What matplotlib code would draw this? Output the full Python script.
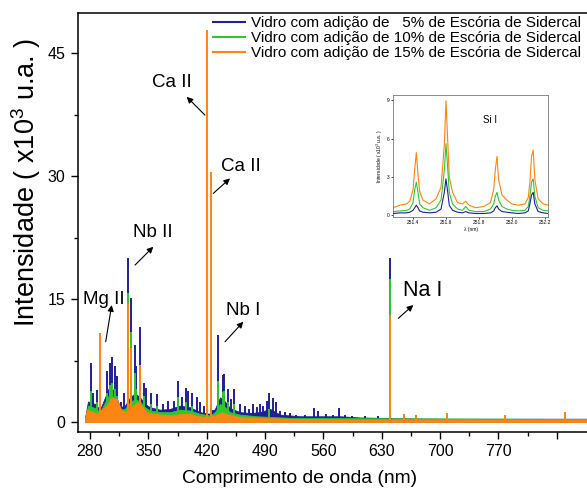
import numpy as np
import matplotlib
matplotlib.use("Agg")
import matplotlib.pyplot as plt

plt.rcParams['font.family'] = ['Liberation Sans', 'DejaVu Sans']
plt.rcParams['mathtext.fontset'] = 'custom'
plt.rcParams['mathtext.rm'] = 'Liberation Sans'
plt.rcParams['mathtext.it'] = 'Liberation Sans'

# ---------------- data ----------------
labels = ["Vidro com adição de   5% de Escória de Sidercal",
          "Vidro com adição de 10% de Escória de Sidercal",
          "Vidro com adição de 15% de Escória de Sidercal"]
colors = ["#1f1f96", "#2ec82e", "#ff8412"]

# continuum (nm, x10^3 u.a.)
blue_cont_x = [274, 277.6, 286, 292, 298, 304, 310, 316, 322, 328, 334, 340, 346, 352, 364, 376, 388, 400, 412, 424, 430, 436, 442, 448, 460, 472, 484, 496, 508, 532, 556, 580, 604, 634, 646, 712, 892]
blue_cont_y = [0.5, 2.5, 2.2, 1.5, 3.0, 4.5, 3.5, 1.8, 2.0, 3.0, 3.5, 3.0, 2.2, 1.8, 1.5, 1.6, 2.0, 1.8, 1.2, 1.0, 1.6, 3.0, 2.5, 1.7, 1.2, 1.1, 1.2, 1.6, 0.9, 0.7, 0.7, 0.7, 0.55, 0.5, 0.45, 0.4, 0.4]
green_cont_x = [274, 277.6, 286, 292, 298, 304, 310, 316, 322, 328, 334, 340, 346, 352, 364, 376, 388, 400, 412, 424, 430, 436, 442, 448, 460, 480, 520, 892]
green_cont_y = [0.4, 2.0, 1.7, 1.2, 2.4, 3.5, 2.8, 1.5, 1.6, 2.4, 2.8, 2.5, 1.8, 1.4, 1.2, 1.2, 1.5, 1.4, 1.0, 0.8, 1.2, 2.2, 1.8, 1.2, 0.9, 0.7, 0.5, 0.35]
orange_cont_x = [274, 276, 282, 288, 294, 300, 306, 312, 318, 324, 330, 336, 342, 348, 356, 366, 378, 390, 400, 410, 420, 430, 438, 446, 460, 480, 500, 540, 600, 892]
orange_cont_y = [0.3, 1.5, 1.3, 1.0, 1.5, 2.0, 3.0, 2.8, 1.4, 1.2, 1.8, 2.4, 2.0, 1.2, 1.0, 0.9, 0.8, 1.0, 1.0, 0.7, 0.6, 0.8, 1.2, 0.9, 0.6, 0.5, 0.45, 0.35, 0.3, 0.3]

# emission lines (nm, height)
blue_pk_x = [280.8, 283.6, 288.8, 300.8, 304.4, 306.8, 309.6, 312.4, 317.6, 320.8, 325.6, 329.6, 333.6, 335.6, 340.4, 344.4, 347.6, 353.6, 360.8, 367.6, 373.6, 380.4, 385.6, 390.4, 395.6, 397.6, 402.0, 408.0, 412.0, 416.8, 427.6, 434.0, 439.2, 441.2, 445.2, 449.2, 453.2, 460.0, 466.0, 470.8, 476.0, 480.4, 484.0, 487.6, 492.0, 495.2, 499.2, 503.2, 508.0, 514.0, 520.0, 527.2, 538.0, 548.8, 553.6, 563.2, 571.6, 579.2, 586.0, 594.4, 610.0, 625.6, 640.0, 656.8, 671.2]
blue_pk_y = [7.2, 3.5, 3.9, 6.2, 7.2, 7.9, 6.8, 5.6, 2.4, 3.5, 20.0, 15.1, 9.4, 6.8, 11.6, 4.7, 4.1, 3.5, 3.4, 2.2, 2.6, 2.6, 5.0, 3.0, 4.2, 3.8, 3.5, 3.1, 2.5, 1.9, 1.5, 10.6, 5.7, 5.9, 4.0, 2.8, 4.0, 2.2, 2.0, 1.6, 2.2, 1.8, 2.2, 1.9, 2.6, 3.5, 2.9, 2.4, 1.4, 1.2, 1.1, 0.9, 0.9, 1.7, 1.3, 1.0, 0.9, 1.7, 0.8, 0.7, 0.7, 0.7, 20.0, 1.0, 0.9]
green_pk_x = [280.8, 288.8, 300.8, 304.4, 306.8, 309.6, 312.4, 325.6, 329.6, 333.6, 335.6, 340.4, 344.4, 353.6, 360.8, 385.6, 395.6, 402.0, 434.0, 439.2, 441.2, 445.2, 453.2, 495.2, 640.0]
green_pk_y = [3.8, 2.5, 3.5, 4.5, 4.8, 4.0, 3.2, 15.7, 11.0, 6.0, 4.0, 7.0, 3.2, 2.2, 2.0, 3.0, 2.4, 2.0, 5.0, 3.6, 3.8, 2.4, 2.2, 1.6, 17.4]
orange_pk_x = [292.4, 325.0, 329.0, 340.0, 420.0, 424.8, 640.0, 656.8, 671.2, 708.4, 778.0, 850.0]
orange_pk_y = [10.8, 14.5, 9.0, 7.0, 47.8, 30.5, 13.1, 1.0, 0.9, 1.1, 0.8, 1.2]

# inset: Si I region
inset_x = [251.28, 251.32, 251.36, 251.38, 251.40, 251.41, 251.42, 251.43, 251.44, 251.46, 251.50, 251.54, 251.57, 251.59, 251.60, 251.61, 251.62, 251.64, 251.67, 251.70, 251.72, 251.74, 251.78, 251.83, 251.87, 251.89, 251.90, 251.91, 251.92, 251.94, 251.97, 252.00, 252.04, 252.08, 252.10, 252.11, 252.12, 252.13, 252.14, 252.16, 252.19, 252.22]
inset_orange = [0.6, 0.8, 0.9, 1.1, 2.0, 3.6, 4.9, 3.2, 1.9, 1.2, 0.9, 1.3, 2.2, 5.5, 8.95, 6.0, 3.0, 1.8, 1.0, 0.9, 1.1, 0.8, 0.6, 0.7, 1.0, 2.0, 3.6, 4.6, 2.8, 1.6, 1.2, 0.9, 0.8, 0.9, 1.4, 2.6, 4.6, 5.1, 2.8, 1.3, 0.9, 0.8]
inset_green = [0.3, 0.35, 0.4, 0.5, 1.0, 2.0, 2.6, 1.8, 0.9, 0.6, 0.4, 0.6, 1.2, 3.5, 5.6, 3.8, 1.8, 0.9, 0.5, 0.4, 0.7, 0.4, 0.3, 0.3, 0.5, 0.9, 1.5, 1.8, 1.2, 0.7, 0.5, 0.4, 0.35, 0.4, 0.7, 1.5, 2.6, 2.85, 1.5, 0.6, 0.4, 0.35]
inset_blue = [0.15, 0.2, 0.2, 0.25, 0.4, 0.6, 0.8, 0.6, 0.35, 0.25, 0.2, 0.25, 0.5, 1.8, 2.85, 1.9, 0.8, 0.4, 0.25, 0.2, 0.3, 0.2, 0.15, 0.15, 0.2, 0.35, 0.6, 0.75, 0.5, 0.3, 0.25, 0.2, 0.15, 0.2, 0.35, 0.9, 1.6, 1.8, 0.9, 0.3, 0.2, 0.15]

x_major = [280, 350, 420, 490, 560, 630, 700, 770, 840]
x_major_lbl = ["280", "350", "420", "490", "560", "630", "700", "770", ""]
y_major = [0, 15, 30, 45]

# ---------------- figure ----------------
W, H = 587, 495
fig = plt.figure(figsize=(W / 100, H / 100), dpi=100)
ax = fig.add_axes([78 / W, 1 - 432 / H, 522 / W, 419 / H])
ax.set_xlim(265.6, 892)
ax.set_ylim(-1.22, 49.9)

series = [
    (blue_cont_x, blue_cont_y, blue_pk_x, blue_pk_y),
    (green_cont_x, green_cont_y, green_pk_x, green_pk_y),
    (orange_cont_x, orange_cont_y, orange_pk_x, orange_pk_y),
]
for i, (cx, cy, px, py) in enumerate(series):
    ax.fill_between(cx, 0, cy, color=colors[i], lw=0.6, zorder=2 + i)
    ax.vlines(px, 0, py, color=colors[i], lw=1.4, zorder=2 + i)
    ax.plot([], [], color=colors[i], lw=1.5, label=labels[i])

ax.set_xticks(x_major)
ax.set_xticklabels(x_major_lbl)
ax.set_xticks([315, 385, 455, 525, 595, 665, 735, 805], minor=True)
ax.set_yticks(y_major)
ax.set_yticks([7.5, 22.5, 37.5], minor=True)
ax.tick_params(which='major', direction='out', length=5, width=1, labelsize=11.5, pad=4)
ax.tick_params(which='minor', direction='out', length=3, width=1)
for s in ['left', 'bottom', 'top']:
    ax.spines[s].set_linewidth(1.1)
ax.spines['right'].set_visible(False)

ax.set_ylabel("Intensidade ( x10$^3$ u.a. )", fontsize=19.5)
ax.yaxis.set_label_coords(-(78 - 43) / 522, (432 - 182) / 419)
ax.set_xlabel("Comprimento de onda (nm)", fontsize=13.9)
ax.xaxis.set_label_coords((300 - 78) / 522, -(470 - 432) / 419)

leg = fig.legend(loc='upper left', bbox_to_anchor=(213 / W, 1 - 16 / H), frameon=False,
                 fontsize=11, handlelength=2.1, handletextpad=0.4, labelspacing=0.07,
                 borderpad=0, borderaxespad=0)

def pxd(px, py):
    return 280 + (px - 90) * 1.2, (422 - py) / 8.2

ann = [
    ("Ca II", (172, 82), (205, 115), (186.7, 96.7), 13.5),
    ("Ca II", (241, 166.7), (213.3, 193.3), (230, 178.3), 13.5),
    ("Nb II", (153, 232), (135, 265), (153.3, 246.7), 13.5),
    ("Mg II", (104, 299), (105.7, 341.7), (111.7, 305), 13.5),
    ("Nb I", (243.5, 310), (225, 341.7), (243.3, 321.7), 13.5),
    ("Na I", (423, 290), (398.3, 318.3), (413.3, 305), 15.5),
]
for txt, tc, tail, head, fs in ann:
    ax.text(*pxd(*tc), txt, fontsize=fs, ha='center', va='center', zorder=10)
    ax.annotate("", xy=pxd(*head), xytext=pxd(*tail),
                arrowprops=dict(arrowstyle='-|>', color='black', lw=0.8,
                                mutation_scale=9, shrinkA=0, shrinkB=0), zorder=10)

# ---------------- inset ----------------
axi = fig.add_axes([393.3 / W, 1 - 216.7 / H, 154.7 / W, 121.7 / H])
axi.set_xlim(251.28, 252.22)
axi.set_ylim(-0.1, 9.4)
axi.plot(inset_x, inset_blue, color=colors[0], lw=0.8, zorder=3)
axi.plot(inset_x, inset_green, color=colors[1], lw=0.8, zorder=2)
axi.plot(inset_x, inset_orange, color=colors[2], lw=0.8, zorder=1)
axi.set_xticks([251.4, 251.6, 251.8, 252.0, 252.2])
axi.set_xticklabels(["251.4", "251.6", "251.8", "252.0", "252.2"])
axi.set_yticks([0, 3, 6, 9])
axi.tick_params(which='both', direction='out', length=1.5, width=0.5, labelsize=3.5, pad=1)
for s in axi.spines.values():
    s.set_linewidth(0.6)
    s.set_color('#777777')
axi.set_ylabel("Intensidade ( x10$^3$ u.a. )", fontsize=3.5, labelpad=1.5)
axi.set_xlabel("λ (nm)", fontsize=3.5, labelpad=1)
axi.text(251.87, 7.45, "Si I", fontsize=7, ha='center', va='center')

fig.savefig("out.png", dpi=100)
